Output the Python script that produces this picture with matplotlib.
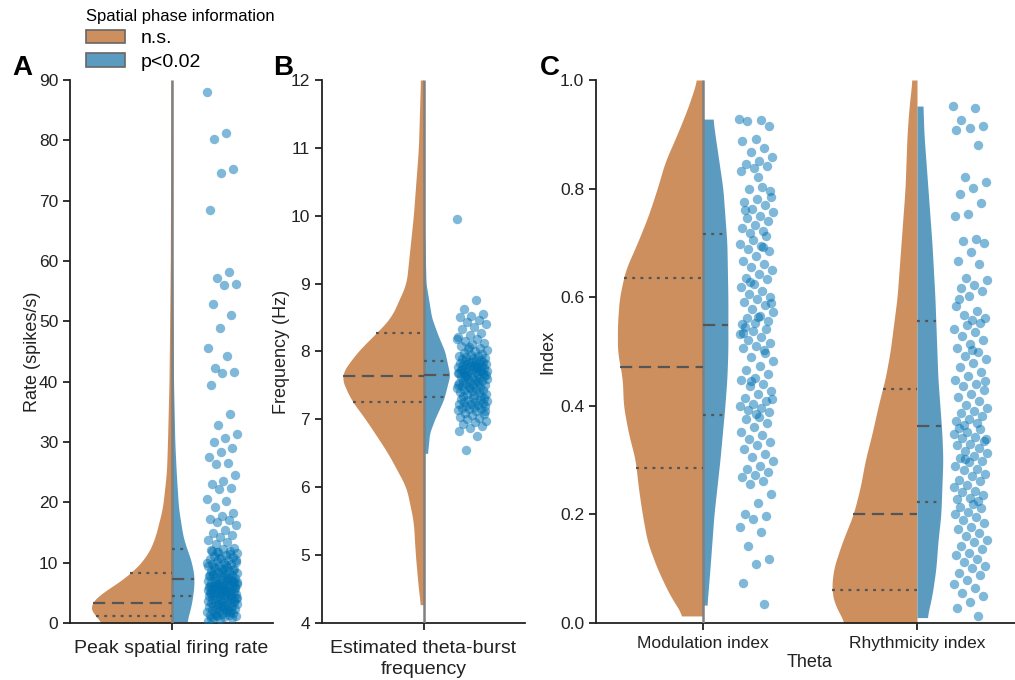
import numpy as np
import matplotlib
matplotlib.use("Agg")
import matplotlib.pyplot as plt
from matplotlib.patches import Patch

plt.rcParams['font.family'] = ['Liberation Sans', 'DejaVu Sans']

# ---------------- data ----------------
groups = ["n.s.", "p<0.02"]
legend_title = "Spatial phase information"

# Panel A: peak spatial firing rate (spikes/s)
A_orange_y = [0, 1, 2.6, 4, 5, 6.5, 8.3, 11, 13.8, 19, 25, 30, 40, 60, 90]
A_orange_d = [66, 77, 83, 78, 69, 55, 40, 25, 17, 9, 5, 4, 2.5, 1.2, 0.6]
A_blue_y = [0.2, 3, 7, 9.5, 11.6, 13.8, 19, 25, 30, 40, 60, 88]
A_blue_d = [15, 20, 23, 21, 17, 12, 7, 4.7, 3.3, 2, 1, 0.5]
A_orange_q = [1.2, 3.3, 8.3]
A_blue_q = [4.4, 7.3, 12.3]
A_points = [
    88.0, 81.2, 80.2, 75.2, 74.6, 68.5, 58.2, 57.1, 56.2, 56.0, 52.9, 51.1, 48.9, 45.5, 44.2,
    42.3, 41.6, 41.5, 39.5, 34.6, 32.8, 31.3, 30.7, 30.0, 29.0, 28.4, 27.5, 26.5, 26.3, 24.5,
    23.5, 23.1, 22.4, 22.2, 20.6, 20.3, 19.2, 18.3, 17.8, 17.3, 17.0, 16.7, 16.2, 15.4, 15.0,
    14.6, 14.2, 13.8, 13.4, 13.1,
    12.4, 12.2, 12.1, 11.9, 11.7, 11.6, 11.3, 11.1, 10.9, 10.8, 10.6, 10.4, 10.3, 10.1, 9.9,
    9.8, 9.7, 9.5, 9.4, 9.2, 9.1, 9.0, 8.9, 8.7, 8.6, 8.5, 8.3, 8.2, 8.1, 8.0, 7.9, 7.8, 7.7,
    7.6, 7.5, 7.4, 12.0, 11.4, 10.7, 10.0, 9.6, 9.3, 8.8, 8.4, 7.9, 7.5, 11.8, 10.5, 9.0, 8.0,
    7.2, 7.1, 7.0, 6.9, 6.9, 6.8, 6.7, 6.6, 6.5, 6.5, 6.4, 6.3, 6.2, 6.1, 6.1, 6.0, 5.9, 5.8,
    5.8, 5.7, 5.6, 5.5, 5.5, 5.4, 5.3, 5.2, 5.2, 5.1, 5.0, 4.9, 4.9, 4.8, 4.7, 4.7, 4.6, 4.5,
    4.5, 7.2, 6.6, 6.0, 5.6, 5.0, 4.6, 6.3, 6.8, 5.3, 5.9, 7.0, 4.8, 6.2,
    4.3, 4.2, 4.1, 4.0, 4.0, 3.9, 3.8, 3.7, 3.7, 3.6, 3.5, 3.4, 3.3, 3.3, 3.2, 3.1, 3.0, 2.9,
    2.8, 2.7, 2.6, 2.5, 2.4, 2.4, 2.3, 2.2, 2.1, 2.0, 1.9, 1.8, 1.7, 1.6, 1.5, 1.4, 1.3, 1.2,
    1.1, 1.0, 0.9, 0.8, 0.6, 0.4, 2.2, 1.4, 3.6, 2.8, 0.9, 1.8, 3.0, 4.1,
]

# Panel B: estimated theta-burst frequency (Hz)
B_orange_y = [4.27, 4.5, 5, 5.5, 6, 6.5, 7, 7.3, 7.65, 8, 8.25, 8.5, 9, 10, 11, 12]
B_orange_d = [3, 5, 8, 10, 17, 35, 57, 72, 82, 65, 48, 32, 17, 10, 5, 3]
B_blue_y = [6.5, 6.8, 7, 7.3, 7.65, 8, 8.25, 8.5, 9, 9.95]
B_blue_d = [4, 6, 11, 20, 26, 21, 14, 8, 2.5, 0.8]
B_orange_q = [7.25, 7.64, 8.27]
B_blue_q = [7.33, 7.66, 7.86]
B_points = [
    9.95, 8.76, 8.62, 8.55, 8.53, 8.51, 8.47, 8.44, 8.41, 8.36, 8.33, 8.27, 8.24, 8.21, 8.18,
    8.16, 8.12, 8.11, 8.08, 8.05, 8.03, 8.02, 8.00, 7.98, 7.97, 7.95, 7.94, 7.93, 7.92, 7.91,
    7.90, 7.89, 7.88, 8.07, 8.19,
    7.87, 7.86, 7.85, 7.84, 7.83, 7.83, 7.82, 7.81, 7.80, 7.80, 7.79, 7.78, 7.77, 7.76, 7.76,
    7.75, 7.74, 7.73, 7.72, 7.72, 7.71, 7.70, 7.70, 7.69, 7.68, 7.68, 7.67, 7.66, 7.66, 7.79,
    7.74, 7.71, 7.84, 7.69, 7.77,
    7.65, 7.64, 7.63, 7.62, 7.61, 7.60, 7.59, 7.58, 7.57, 7.56, 7.55, 7.54, 7.53, 7.52, 7.51,
    7.50, 7.49, 7.48, 7.47, 7.46, 7.45, 7.44, 7.43, 7.42, 7.41, 7.40, 7.38, 7.37, 7.36, 7.35,
    7.34, 7.46, 7.51, 7.57, 7.62,
    7.32, 7.31, 7.30, 7.29, 7.28, 7.27, 7.26, 7.25, 7.24, 7.23, 7.22, 7.21, 7.20, 7.19, 7.18,
    7.17, 7.16, 7.15, 7.14, 7.12, 7.10, 7.08, 7.06, 7.04, 7.02, 7.00, 6.98, 6.96, 6.93, 6.90,
    6.87, 6.83, 6.76, 6.55, 7.13,
]

# Panel C: theta modulation / rhythmicity index
C_categories = ["Modulation index", "Rhythmicity index"]
Cm_orange_y = [0.013, 0.05, 0.1, 0.15, 0.2, 0.25, 0.3, 0.35, 0.4, 0.45, 0.5, 0.55, 0.6,
               0.65, 0.7, 0.75, 0.8, 0.85, 0.9, 0.95, 1.0]
Cm_orange_d = [20, 33, 46, 56, 61, 65, 68, 75, 80, 81, 86, 86, 84, 78, 66, 55, 46, 38, 26, 15, 6]
Cm_blue_y = [0.033, 0.1, 0.2, 0.3, 0.4, 0.45, 0.5, 0.6, 0.7, 0.8, 0.85, 0.9, 0.928]
Cm_blue_d = [4, 7, 11, 17, 22, 24, 25, 25, 24, 20, 16, 12, 10]
Cm_orange_q = [0.285, 0.471, 0.635]
Cm_blue_q = [0.383, 0.549, 0.716]
Cm_points = [
    0.928, 0.927, 0.925, 0.915, 0.892, 0.888, 0.875, 0.868, 0.858, 0.851, 0.845, 0.842, 0.838,
    0.832, 0.803, 0.799, 0.795, 0.781, 0.776, 0.770, 0.762, 0.756, 0.750, 0.746, 0.740, 0.733,
    0.727, 0.722, 0.719, 0.785, 0.822, 0.761,
    0.712, 0.705, 0.698, 0.694, 0.689, 0.685, 0.676, 0.667, 0.661, 0.655, 0.650, 0.642, 0.636,
    0.634, 0.625, 0.619, 0.612, 0.606, 0.601, 0.597, 0.591, 0.585, 0.578, 0.572, 0.566, 0.561,
    0.557, 0.553, 0.551, 0.692, 0.628, 0.589, 0.563,
    0.546, 0.541, 0.537, 0.532, 0.527, 0.521, 0.516, 0.510, 0.506, 0.498, 0.490, 0.482, 0.474,
    0.466, 0.458, 0.451, 0.447, 0.441, 0.436, 0.428, 0.421, 0.415, 0.409, 0.404, 0.400, 0.396,
    0.392, 0.388, 0.385, 0.534, 0.503, 0.445, 0.412,
    0.380, 0.376, 0.368, 0.361, 0.352, 0.346, 0.339, 0.333, 0.327, 0.320, 0.311, 0.305, 0.298,
    0.290, 0.284, 0.278, 0.272, 0.268, 0.262, 0.256, 0.238, 0.221, 0.201, 0.197, 0.192, 0.176,
    0.168, 0.141, 0.118, 0.108, 0.073, 0.035,
]
Cr_orange_y = [0.0, 0.03, 0.06, 0.1, 0.15, 0.2, 0.25, 0.3, 0.35, 0.4, 0.45, 0.5, 0.6, 0.7,
               0.8, 0.9, 0.95, 1.0]
Cr_orange_d = [72, 82, 86, 84, 75, 64, 57, 52, 45, 39, 32, 27, 20, 16, 12, 10, 8, 5]
Cr_blue_y = [0.01, 0.05, 0.1, 0.15, 0.2, 0.25, 0.3, 0.35, 0.4, 0.45, 0.5, 0.6, 0.7, 0.8,
             0.9, 0.952]
Cr_blue_d = [10, 15, 19, 21, 24, 25, 26, 25, 23, 21, 20, 18, 15, 11, 7, 6]
Cr_orange_q = [0.061, 0.200, 0.431]
Cr_blue_q = [0.223, 0.363, 0.556]
Cr_points = [
    0.952, 0.948, 0.926, 0.915, 0.911, 0.907, 0.881, 0.822, 0.812, 0.801, 0.790, 0.773, 0.754,
    0.749, 0.708, 0.704, 0.699, 0.683, 0.667, 0.661, 0.636, 0.631, 0.622, 0.617, 0.611, 0.603,
    0.584, 0.574, 0.567, 0.561, 0.558, 0.596,
    0.552, 0.548, 0.541, 0.536, 0.529, 0.521, 0.514, 0.506, 0.499, 0.492, 0.486, 0.478, 0.471,
    0.463, 0.455, 0.448, 0.441, 0.436, 0.429, 0.422, 0.416, 0.409, 0.402, 0.396, 0.391, 0.386,
    0.381, 0.376, 0.372, 0.368, 0.365, 0.445, 0.503,
    0.360, 0.357, 0.351, 0.348, 0.343, 0.341, 0.336, 0.330, 0.327, 0.323, 0.317, 0.313, 0.308,
    0.304, 0.298, 0.296, 0.290, 0.284, 0.281, 0.275, 0.271, 0.264, 0.261, 0.254, 0.251, 0.244,
    0.241, 0.236, 0.230, 0.228, 0.224, 0.302, 0.338,
    0.220, 0.214, 0.211, 0.204, 0.200, 0.196, 0.189, 0.185, 0.177, 0.173, 0.165, 0.161, 0.153,
    0.149, 0.141, 0.137, 0.129, 0.125, 0.117, 0.113, 0.105, 0.101, 0.093, 0.089, 0.079, 0.071,
    0.064, 0.055, 0.049, 0.038, 0.028, 0.012,
]

# ---------------- style ----------------
ORANGE = "#CE8F5E"
BLUE = "#5B9BBF"
PT = "#0072B2"
QCOL = "#555555"
GRAY = "#808080"
TXT = "#222222"
W = 0.41  # max half-width of violins (data units)


def profile(y, d, dmax):
    y = np.asarray(y, float)
    d = np.asarray(d, float) / dmax
    yy = np.linspace(y[0], y[-1], 400)
    ww = np.interp(yy, y, d)
    k = 15
    pad = np.pad(ww, k // 2, mode="edge")
    ww = np.convolve(pad, np.ones(k) / k, mode="valid")
    return yy, ww


MED = (0, (5.5, 3.0))
QRT = (0, (1.3, 2.4))


def split_violin(ax, pos, oy, od, by, bd, oq, bq, w=W, center_line=None):
    dmax = max(od)
    yy, ww = profile(oy, od, dmax)
    ax.fill_betweenx(yy, pos - ww * w, pos, color=ORANGE, lw=0, zorder=2)
    for i, q in enumerate(oq):
        hw = np.interp(q, yy, ww) * w
        ax.plot([pos - hw, pos], [q, q], color=QCOL, lw=1.6, ls=MED if i == 1 else QRT,
                zorder=4, dash_capstyle="butt")
    yb, wb = profile(by, bd, dmax)
    ax.fill_betweenx(yb, pos, pos + wb * w, color=BLUE, lw=0, zorder=2)
    for i, q in enumerate(bq):
        hw = np.interp(q, yb, wb) * w
        ax.plot([pos, pos + hw], [q, q], color=QCOL, lw=1.6, ls=MED if i == 1 else QRT,
                zorder=4, dash_capstyle="butt")
    if center_line is not None:
        ax.plot([pos, pos], center_line, color=GRAY, lw=1.8, zorder=3,
                solid_capstyle="butt")


def strip(ax, pos, vals, jw=0.075):
    vals = np.asarray(vals, float)
    n = len(vals)
    jit = ((np.arange(n) * 0.6180339887) % 1.0 - 0.5) * 2 * jw
    ax.scatter(pos + jit, vals, s=46, color=PT, alpha=0.5, lw=0, zorder=5)


def style(ax, xfs, xpad):
    for s in ["top", "right"]:
        ax.spines[s].set_visible(False)
    for s in ["left", "bottom"]:
        ax.spines[s].set_linewidth(1.3)
        ax.spines[s].set_color(TXT)
    ax.tick_params(direction="out", length=5, width=1.3, color=TXT,
                   labelsize=12.5, labelcolor=TXT)
    ax.tick_params(axis="x", labelsize=xfs, pad=xpad)


fig = plt.figure(figsize=(10.15, 6.8), dpi=100)
H = 543 / 680
B0 = 57 / 680

# Panel A
axA = fig.add_axes([70 / 1015, B0, 203 / 1015, H])
split_violin(axA, 0, A_orange_y, A_orange_d, A_blue_y, A_blue_d, A_orange_q, A_blue_q,
             center_line=[0, 90])
strip(axA, 0.25, A_points)
axA.set_xlim(-0.5, 0.5)
axA.set_ylim(0, 90)
axA.set_yticks(np.arange(0, 91, 10))
axA.set_xticks([0])
axA.set_xticklabels(["Peak spatial firing rate"])
axA.set_ylabel("Rate (spikes/s)", fontsize=13, color=TXT)
axA.yaxis.set_label_coords(-0.145, 0.5)
style(axA, 14, 7.5)

# Panel B
axB = fig.add_axes([322 / 1015, B0, 203 / 1015, H])
split_violin(axB, 0, B_orange_y, B_orange_d, B_blue_y, B_blue_d, B_orange_q, B_blue_q,
             center_line=[4, 12])
strip(axB, 0.24, B_points)
axB.set_xlim(-0.5, 0.5)
axB.set_ylim(4, 12)
axB.set_yticks(np.arange(4, 13, 1))
axB.set_xticks([0])
axB.set_xticklabels(["Estimated theta-burst\nfrequency"], linespacing=1.3)
axB.set_ylabel("Frequency (Hz)", fontsize=13, color=TXT)
axB.yaxis.set_label_coords(-0.16, 0.5)
style(axB, 14, 7.5)

# Panel C
axC = fig.add_axes([596 / 1015, B0, 428 / 1015, H])
split_violin(axC, 0, Cm_orange_y, Cm_orange_d, Cm_blue_y, Cm_blue_d, Cm_orange_q, Cm_blue_q,
             w=0.40, center_line=[0, 1.0])
split_violin(axC, 1, Cr_orange_y, Cr_orange_d, Cr_blue_y, Cr_blue_d, Cr_orange_q, Cr_blue_q,
             w=0.40)
strip(axC, 0.25, Cm_points, jw=0.08)
strip(axC, 1.25, Cr_points, jw=0.08)
axC.set_xlim(-0.5, 1.5)
axC.set_ylim(0, 1.0)
axC.set_yticks(np.arange(0, 1.01, 0.2))
axC.set_yticklabels([f"{v:.1f}" for v in np.arange(0, 1.01, 0.2)])
axC.set_xticks([0, 1])
axC.set_xticklabels(C_categories)
axC.set_ylabel("Index", fontsize=13, color=TXT)
axC.yaxis.set_label_coords(-0.092, 0.5)
axC.set_xlabel("Theta", fontsize=13, color=TXT, labelpad=2)
style(axC, 12.5, 4.5)

# panel letters
for x, lab in [(12, "A"), (273, "B"), (540, "C")]:
    fig.text(x / 1015, 1 - 75 / 680, lab, fontsize=20, fontweight="bold",
             va="baseline", ha="left")

# legend
handles = [Patch(facecolor=ORANGE, edgecolor="#666666", lw=1.2),
           Patch(facecolor=BLUE, edgecolor="#666666", lw=1.2)]
fig.legend(handles, groups, title=legend_title, loc="upper left",
           bbox_to_anchor=(86 / 1015, 1 - 9 / 680), frameon=False, fontsize=14,
           title_fontsize=12, alignment="left", borderpad=0, handlelength=2.0,
           handleheight=0.7, handletextpad=0.8, labelspacing=0.3, borderaxespad=0)

fig.savefig("out.png", dpi=100)
